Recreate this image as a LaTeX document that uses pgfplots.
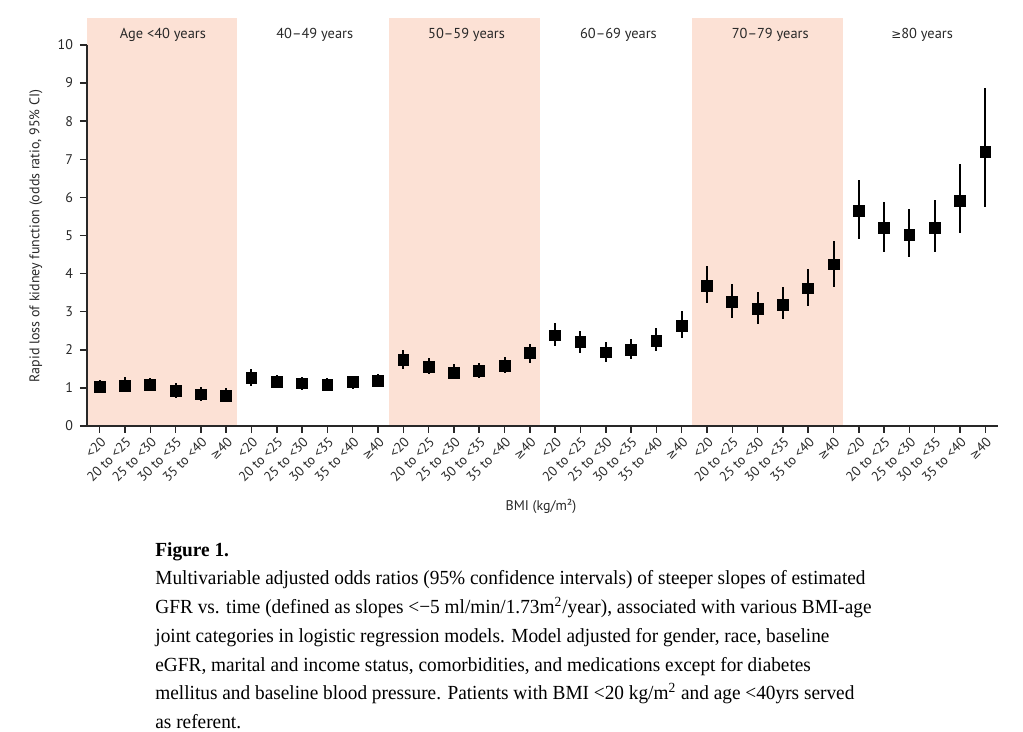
\documentclass[border=0pt]{standalone}
\usepackage{pgfplots}
\pgfplotsset{compat=1.18}
\usepackage{pgfplotstable}
\usepackage{fontspec}
\setmainfont{PT Sans}
\newfontfamily\capfont[FakeStretch=0.965]{Liberation Serif}
\newfontfamily\symfont{DejaVu Sans}
\definecolor{band}{RGB}{252,225,213}
\definecolor{axcol}{RGB}{40,40,40}
\newcommand{\GE}{{\symfont\fontsize{6}{7}\selectfont ≥}}

\pgfplotstableread{
x y ep em
0 1.03 0.18 0.17
1 1.06 0.23 0.16
2 1.08 0.17 0.16
3 0.92 0.20 0.19
4 0.83 0.20 0.17
5 0.80 0.19 0.16
6 1.27 0.22 0.22
7 1.16 0.18 0.13
8 1.12 0.17 0.18
9 1.08 0.17 0.16
10 1.15 0.16 0.18
11 1.18 0.18 0.16
12 1.73 0.26 0.23
13 1.56 0.23 0.20
14 1.40 0.23 0.17
15 1.44 0.22 0.17
16 1.58 0.22 0.20
17 1.91 0.23 0.25
18 2.38 0.33 0.28
19 2.20 0.29 0.29
20 1.93 0.28 0.24
21 1.99 0.29 0.23
22 2.24 0.32 0.26
23 2.62 0.41 0.30
24 3.67 0.53 0.45
25 3.25 0.48 0.41
26 3.07 0.44 0.39
27 3.18 0.48 0.37
28 3.61 0.50 0.46
29 4.24 0.62 0.58
30 5.64 0.82 0.74
31 5.19 0.70 0.62
32 5.01 0.69 0.58
33 5.19 0.74 0.62
34 5.91 0.96 0.84
35 7.20 1.68 1.46
}\data

\begin{document}
\begin{tikzpicture}[x=1pt,y=1pt]
\useasboundingbox (0,0) rectangle (511.5,366);
\begin{axis}[
  at={(43.5pt,153pt)}, anchor=south west,
  scale only axis, width=455.5pt, height=190.5pt,
  xmin=-0.5, xmax=35.5, ymin=0, ymax=10,
  axis x line*=bottom, axis y line*=left,
  axis line style={line width=0.75pt, axcol},
  tick align=outside, major tick length=3.5pt,
  tick style={line width=0.75pt, axcol},
  clip=false, axis on top,
  ytick={0,1,...,10},
  xtick={0,1,...,35},
  xticklabels={{<20},{20 to <25},{25 to <30},{30 to <35},{35 to <40},{\GE40},
               {<20},{20 to <25},{25 to <30},{30 to <35},{35 to <40},{\GE40},
               {<20},{20 to <25},{25 to <30},{30 to <35},{35 to <40},{\GE40},
               {<20},{20 to <25},{25 to <30},{30 to <35},{35 to <40},{\GE40},
               {<20},{20 to <25},{25 to <30},{30 to <35},{35 to <40},{\GE40},
               {<20},{20 to <25},{25 to <30},{30 to <35},{35 to <40},{\GE40}},
  x tick label style={rotate=45, anchor=north east, font=\fontsize{6.8}{8}\selectfont, inner sep=1pt, text=axcol},
  y tick label style={font=\fontsize{7}{8}\selectfont, text=axcol},
  /pgf/number format/assume math mode=true,
]
\fill[band] (axis cs:-0.5,0) rectangle (axis cs:5.43,10.71);
\fill[band] (axis cs:11.43,0) rectangle (axis cs:17.4,10.71);
\fill[band] (axis cs:23.4,0) rectangle (axis cs:29.37,10.71);
\node[font=\fontsize{7.2}{8}\selectfont, text=axcol] at (axis cs:2.5,10.26) {Age <40 years};
\node[font=\fontsize{7.2}{8}\selectfont, text=axcol] at (axis cs:8.5,10.26) {40–49 years};
\node[font=\fontsize{7.2}{8}\selectfont, text=axcol] at (axis cs:14.5,10.26) {50–59 years};
\node[font=\fontsize{7.2}{8}\selectfont, text=axcol] at (axis cs:20.5,10.26) {60–69 years};
\node[font=\fontsize{7.2}{8}\selectfont, text=axcol] at (axis cs:26.5,10.26) {70–79 years};
\node[font=\fontsize{7.2}{8}\selectfont, text=axcol] at (axis cs:32.5,10.26) {\GE80 years};
\addplot[only marks, mark=square*, mark size=2.7pt, black,
  error bars/.cd, y dir=both, y explicit, error mark=none,
  error bar style={line width=1pt, black}]
  table[x=x, y=y, y error plus=ep, y error minus=em] {\data};
\end{axis}
\node[rotate=90, font=\fontsize{7}{8}\selectfont, text=axcol] at (18,248) {Rapid loss of kidney function (odds ratio, 95\% CI)};
\node[font=\fontsize{7}{8}\selectfont, text=axcol] at (270.5,113) {BMI (kg/m²)};
\node[anchor=base west, inner sep=0pt, font=\capfont\bfseries\fontsize{10}{12}\selectfont] at (77.5,87.7) {Figure 1.};
\begin{scope}[every node/.style={anchor=base west, inner sep=0pt, font=\capfont\fontsize{10}{12}\selectfont}]
\node at (77.5,73.5) {Multivariable adjusted odds ratios (95\% confidence intervals) of steeper slopes of estimated};
\node at (77.5,59.15) {GFR vs. time (defined as slopes <−5 ml/min/1.73m\textsuperscript{2}/year), associated with various BMI-age};
\node at (77.5,44.8) {joint categories in logistic regression models. Model adjusted for gender, race, baseline};
\node at (77.5,30.45) {eGFR, marital and income status, comorbidities, and medications except for diabetes};
\node at (77.5,16.1) {mellitus and baseline blood pressure. Patients with BMI <20 kg/m\textsuperscript{2} and age <40yrs served};
\node at (77.5,1.75) {as referent.};
\end{scope}
\end{tikzpicture}
\end{document}
